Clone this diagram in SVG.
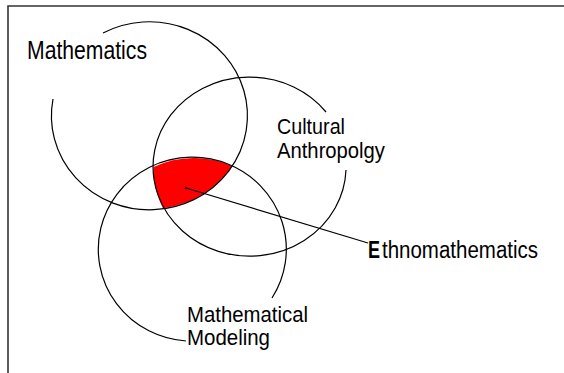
<svg xmlns="http://www.w3.org/2000/svg" width="564" height="373" viewBox="0 0 564 373">
  <style>
    .ring { fill: none; stroke: #000; stroke-width: 1.2; }
    .lbl { font-family: "Liberation Sans", Arial, sans-serif; fill: #000; }
    .conn { stroke: #000; stroke-width: 1.2; fill: none; }
  </style>
  <rect x="0" y="0" width="564" height="373" fill="#fff"/>
  <path d="M 8,373 V 6 H 564" fill="none" stroke="#333" stroke-width="1.6"/>

  <g id="ethnomathematics-region">
    <path d="M 153.6,167 A 94 92 0 0 1 232.3,166 A 98 94 0 0 1 162.9,208.2 A 96.5 89.5 0 0 1 153.6,167 Z" fill="#ff0000"/>
  </g>

  <g id="mathematics">
    <path class="ring" d="M 103,33 A 98 94 0 1 1 53,99"/>
    <text class="lbl" x="27" y="59" font-size="26" textLength="120" lengthAdjust="spacingAndGlyphs">Mathematics</text>
  </g>

  <g id="cultural-anthropology">
    <path class="ring" d="M 346,170 A 96.5 89.5 0 1 1 326,112"/>
    <text class="lbl" x="277" y="134" font-size="22" textLength="68" lengthAdjust="spacingAndGlyphs">Cultural</text>
    <text class="lbl" x="277" y="158" font-size="22" textLength="108" lengthAdjust="spacingAndGlyphs">Anthropolgy</text>
  </g>

  <g id="mathematical-modeling">
    <path class="ring" d="M 186,341 A 94 92 0 1 1 272,298"/>
    <text class="lbl" x="187" y="322" font-size="21.5" textLength="121" lengthAdjust="spacingAndGlyphs">Mathematical</text>
    <text class="lbl" x="187" y="345" font-size="21.5" textLength="83" lengthAdjust="spacingAndGlyphs">Modeling</text>
  </g>

  <g id="ethnomathematics">
    <text class="lbl" x="368" y="258" font-size="23" font-weight="bold" textLength="12" lengthAdjust="spacingAndGlyphs">E</text>
    <text class="lbl" x="382" y="258" font-size="23" textLength="156" lengthAdjust="spacingAndGlyphs">thnomathematics</text>
  </g>

  <g id="connectors">
    <line class="conn" x1="186" y1="188" x2="368" y2="243"/>
    <circle cx="186" cy="188" r="1.2" fill="#000"/>
  </g>
</svg>
